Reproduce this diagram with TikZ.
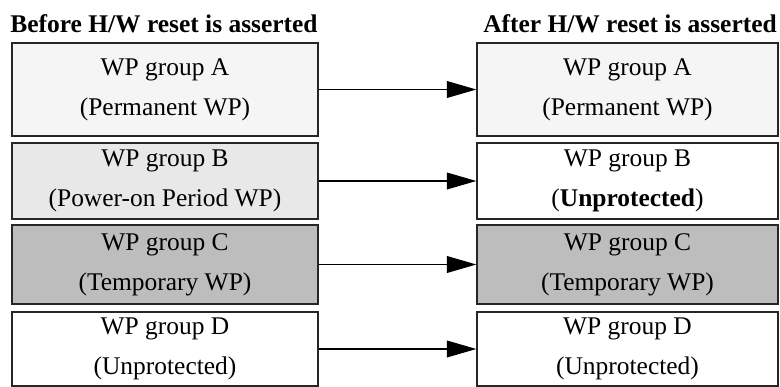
\documentclass[tikz,border=0pt]{standalone}
\usepackage{fontspec}
\setmainfont{Liberation Serif}
\usetikzlibrary{graphs}
\usetikzlibrary{arrows.meta}
\definecolor{permgray}{gray}{0.96}
\definecolor{powergray}{gray}{0.91}
\definecolor{tempgray}{gray}{0.74}
\begin{document}
\begin{tikzpicture} [every node/.style={font=\fontsize{18.1}{28.5}\selectfont, inner sep=0pt},
            wpbox/.style={draw=black!85, line width=1pt, align=center},
            leftbox/.style={wpbox, minimum width=7.65cm},
            rightbox/.style={wpbox, minimum width=7.525cm}]
            \useasboundingbox (0, 0) rectangle (19.5, -9.675);

            \node[anchor=base] (before) at (4.1, -0.825)   {\textbf{Before H/W reset is asserted}};
            \node[anchor=base] (after)  at (15.75, -0.825) {\textbf{After H/W reset is asserted}};

            \node[leftbox, fill=permgray, minimum height=2.325cm]  (la) at (4.125, -2.2375) {WP group A\\(Permanent WP)};
            \node[leftbox, fill=powergray, minimum height=1.9cm]   (lb) at (4.125, -4.525)  {WP group B\\(Power-on Period WP)};
            \node[leftbox, fill=tempgray, minimum height=1.975cm]  (lc) at (4.125, -6.6125) {WP group C\\(Temporary WP)};
            \node[leftbox, fill=white, minimum height=1.85cm]      (ld) at (4.125, -8.725)  {WP group D\\(Unprotected)};

            \node[rightbox, fill=permgray, minimum height=2.325cm] (ra) at (15.6875, -2.2375) {WP group A\\(Permanent WP)};
            \node[rightbox, fill=white, minimum height=1.9cm]      (rb) at (15.6875, -4.525)  {WP group B\\(\textbf{Unprotected})};
            \node[rightbox, fill=tempgray, minimum height=1.975cm] (rc) at (15.6875, -6.6125) {WP group C\\(Temporary WP)};
            \node[rightbox, fill=white, minimum height=1.85cm]     (rd) at (15.6875, -8.725)  {WP group D\\(Unprotected)};


            \graph[edges={-{Triangle[length=21pt, width=12pt]}, line width=0.8pt}] {
                (la) -- (ra);
                (lb) -- (rb);
                (lc) -- (rc);
                (ld) -- (rd);
            };
        \end{tikzpicture}
\end{document}
